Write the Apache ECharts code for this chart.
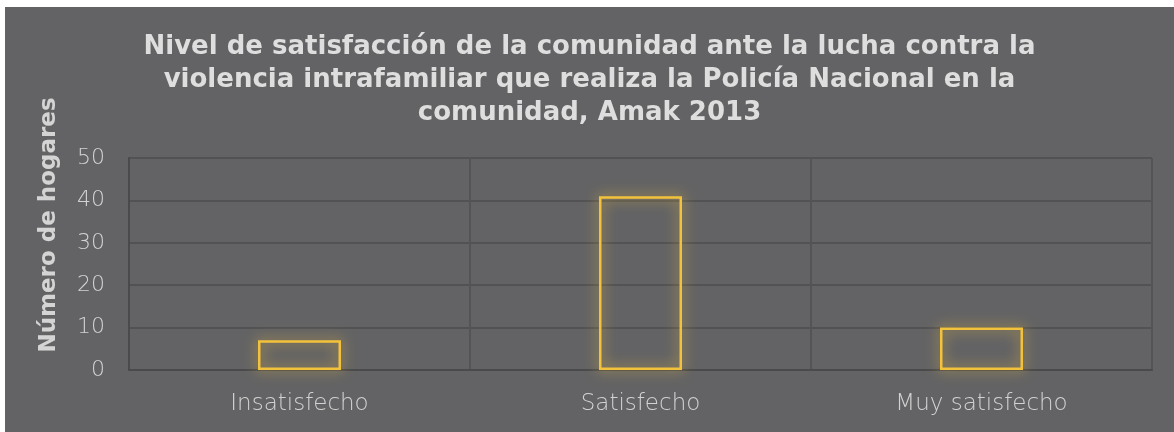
<!DOCTYPE html>
<html>
<head>
<meta charset="utf-8">
<script src="https://cdn.jsdelivr.net/npm/echarts@6/dist/echarts.min.js"></script>
<style>
  html, body { margin: 0; padding: 0; background: #ffffff; width: 1174px; height: 432px; overflow: hidden; }
  #chart { position: absolute; left: 5px; top: 7px; width: 1169px; height: 425px; }
</style>
</head>
<body>
<div id="chart"></div>
<script>
  // Survey results: households by satisfaction level
  const categories = ['Insatisfecho', 'Satisfecho', 'Muy satisfecho'];
  const households = [7, 41, 10];
  const yTicks = { min: 0, max: 50, interval: 10 };
  const titleLines = [
    'Nivel de satisfacción de la comunidad ante la lucha contra la',
    'violencia intrafamiliar que realiza la Policía Nacional en la',
    'comunidad, Amak 2013'
  ];
  const yName = 'Número de hogares';

  const chart = echarts.init(document.getElementById('chart'), null, { renderer: 'canvas' });

  const labelFont = { fontFamily: 'DejaVu Sans', fontWeight: 200, color: '#d2d2d2' };

  chart.setOption({
    backgroundColor: '#636365',
    animation: false,
    title: {
      text: titleLines.join('\n'),
      left: 'center',
      top: 19,
      textStyle: {
        fontFamily: 'DejaVu Sans',
        fontWeight: 'bold',
        fontSize: 26,
        lineHeight: 33,
        color: '#dedede'
      }
    },
    graphic: [{
      type: 'text',
      x: 44,
      y: 218,
      rotation: Math.PI / 2,
      style: {
        text: yName,
        fontFamily: 'DejaVu Sans',
        fontWeight: 'bold',
        fontSize: 23,
        fill: '#d4d4d4',
        align: 'center',
        verticalAlign: 'middle'
      }
    }],
    grid: { left: 124, right: 22, top: 151, bottom: 62 },
    xAxis: {
      type: 'category',
      data: categories,
      axisTick: { show: false },
      axisLine: { lineStyle: { color: '#4a4a4c', width: 2 } },
      splitLine: { show: true, lineStyle: { color: '#545456', width: 2 } },
      axisLabel: Object.assign({ fontSize: 23, margin: 23 }, labelFont)
    },
    yAxis: {
      type: 'value',
      min: yTicks.min,
      max: yTicks.max,
      interval: yTicks.interval,
      axisLine: { show: true, lineStyle: { color: '#4a4a4c', width: 2 } },
      axisTick: { show: false },
      splitLine: { lineStyle: { color: '#525254', width: 2 } },
      axisLabel: Object.assign({ fontSize: 22, margin: 24 }, labelFont)
    },
    series: [{
      type: 'bar',
      data: households,
      barWidth: 83,
      itemStyle: {
        color: 'rgba(0,0,0,0)',
        borderColor: '#f3c23c',
        borderWidth: 2.5,
        shadowBlur: 14,
        shadowColor: 'rgba(243,194,60,0.95)'
      }
    }]
  });
</script>
</body>
</html>
